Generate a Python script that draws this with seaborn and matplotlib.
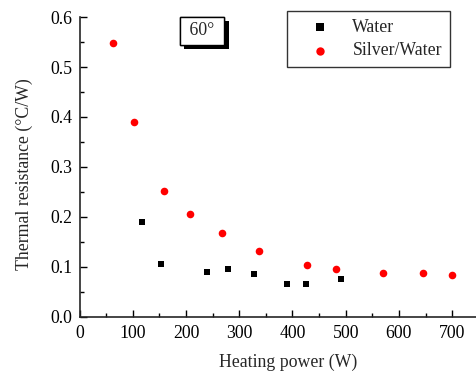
import pandas as pd
import seaborn as sns
from matplotlib import pyplot as plt
from matplotlib import patheffects
from matplotlib.ticker import MultipleLocator

# data
water_power = [117, 152, 239, 278, 327, 390, 426, 492]
water_res = [0.190, 0.106, 0.090, 0.095, 0.086, 0.066, 0.065, 0.076]
silver_power = [62, 103, 158, 207, 267, 338, 428, 481, 571, 645, 699]
silver_res = [0.549, 0.390, 0.252, 0.206, 0.168, 0.132, 0.104, 0.096, 0.087, 0.088, 0.084]
series_names = ['Water', 'Silver/Water']

water = pd.DataFrame({'power': water_power, 'res': water_res})
silver = pd.DataFrame({'power': silver_power, 'res': silver_res})

sns.set_style('ticks')
plt.rcParams['font.family'] = ['Liberation Serif', 'DejaVu Serif']

fs = 12.8
fig = plt.figure(figsize=(4.77, 3.72), dpi=100)
ax = fig.add_axes([0.167, 0.149, 0.831, 0.805])

sns.scatterplot(data=water, x='power', y='res', color='black', marker='s',
                s=24, linewidth=0, label=series_names[0], ax=ax)
sns.scatterplot(data=silver, x='power', y='res', color='#ff0000', marker='o',
                s=30, linewidth=0, label=series_names[1], ax=ax)

ax.set_xlim(0, 745)
ax.set_ylim(0, 0.6)
ax.xaxis.set_major_locator(MultipleLocator(100))
ax.xaxis.set_minor_locator(MultipleLocator(50))
ax.yaxis.set_major_locator(MultipleLocator(0.1))
ax.yaxis.set_minor_locator(MultipleLocator(0.05))
ax.yaxis.set_major_formatter(plt.FormatStrFormatter('%.1f'))
ax.tick_params(which='both', direction='in', labelsize=fs, width=1, colors='black')
ax.tick_params(which='major', length=5)
ax.tick_params(which='minor', length=3)
ax.tick_params(axis='x', pad=6)
ax.tick_params(axis='y', pad=5)
for side in ['top', 'right']:
    ax.spines[side].set_visible(False)
for side in ['left', 'bottom']:
    ax.spines[side].set_linewidth(1.2)

ax.set_xlabel('Heating power (W)', fontsize=fs)
ax.set_ylabel('Thermal resistance (°C/W)', fontsize=fs)
ax.xaxis.set_label_coords(0.526, -0.125)
ax.yaxis.set_label_coords(-0.117, 0.476)

leg = ax.legend(loc='upper right', bbox_to_anchor=(0.934, 1.02), frameon=True,
                fancybox=False, edgecolor='black', fontsize=fs, markerscale=1.1,
                handletextpad=0.4, borderpad=0.45, labelspacing=0.35,
                handlelength=2.8, borderaxespad=0)
leg.get_frame().set_linewidth(1)

t = ax.text(0.309, 0.954, ' 60° ', transform=ax.transAxes, fontsize=fs,
            ha='center', va='center',
            bbox=dict(boxstyle='square,pad=0.3', fc='white', ec='black', lw=1))
t.get_bbox_patch().set_path_effects([
    patheffects.withSimplePatchShadow(offset=(3, -3), shadow_rgbFace='black', alpha=1),
    patheffects.Normal()])

fig.savefig('out.png', dpi=100)
